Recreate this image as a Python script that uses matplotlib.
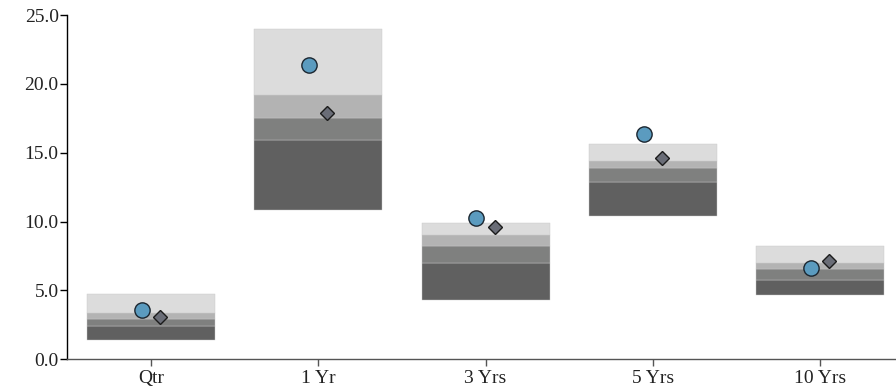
import matplotlib
matplotlib.use("Agg")
import matplotlib.pyplot as plt
import numpy as np

categories = ["Qtr", "1 Yr", "3 Yrs", "5 Yrs", "10 Yrs"]
# percentile band boundaries (bottom -> top)
p95 = [1.40, 10.83, 4.31, 10.39, 4.70]
p75 = [2.42, 15.89, 7.00, 12.89, 5.79]
p50 = [2.93, 17.54, 8.23, 13.90, 6.54]
p25 = [3.39, 19.19, 9.06, 14.41, 7.00]
p05 = [4.72, 23.98, 9.93, 15.60, 8.23]
circle_vals = [3.60, 21.37, 10.25, 16.37, 6.64]
diamond_vals = [3.10, 17.88, 9.64, 14.60, 7.17]
yticks = [0.0, 5.0, 10.0, 15.0, 20.0, 25.0]

band_colors = ["#606060", "#7f807f", "#b3b3b3", "#dcdcdc"]

plt.rcParams['font.family'] = ['Liberation Serif', 'DejaVu Serif']

fig = plt.figure(figsize=(8.96, 3.91), dpi=100)
ax = fig.add_axes([67/896, 31.7/391, 1 - 67/896, (376 - 31.7)/391])

x = np.arange(len(categories))
width = 0.765
levels = [p95, p75, p50, p25, p05]
for i in range(4):
    lo = np.array(levels[i])
    hi = np.array(levels[i + 1])
    ax.bar(x, hi - lo, bottom=lo, width=width, color=band_colors[i],
           edgecolor="#c8c8c8", linewidth=0.3, zorder=2)

off = 0.055
ax.plot(x - off, circle_vals, linestyle="none", marker="o", markersize=11,
        markerfacecolor="#5b9bbf", markeredgecolor="#1b2630", markeredgewidth=1.0, zorder=4)
ax.plot(x + off, diamond_vals, linestyle="none", marker="D", markersize=7.2,
        markerfacecolor="#6a6d77", markeredgecolor="#1b1b1b", markeredgewidth=1.0, zorder=4)

ax.set_xlim(-0.502, 4.453)
ax.set_ylim(0, 25)
ax.set_yticks(yticks)
ax.set_yticklabels([f"{v:.1f}" for v in yticks])
ax.set_xticks(x)
ax.set_xticklabels(categories)

for s in ["top", "right"]:
    ax.spines[s].set_visible(False)
ax.spines["left"].set_color("#000000")
ax.spines["bottom"].set_color("#555555")
ax.spines["left"].set_linewidth(1.0)
ax.spines["bottom"].set_linewidth(1.0)
ax.tick_params(axis="y", length=5, width=1, color="#000000", labelsize=14, labelcolor="#222222", pad=1)
ax.tick_params(axis="x", length=5, width=1, color="#555555", labelsize=14, labelcolor="#222222", pad=3)

fig.savefig("out.png", dpi=100)
